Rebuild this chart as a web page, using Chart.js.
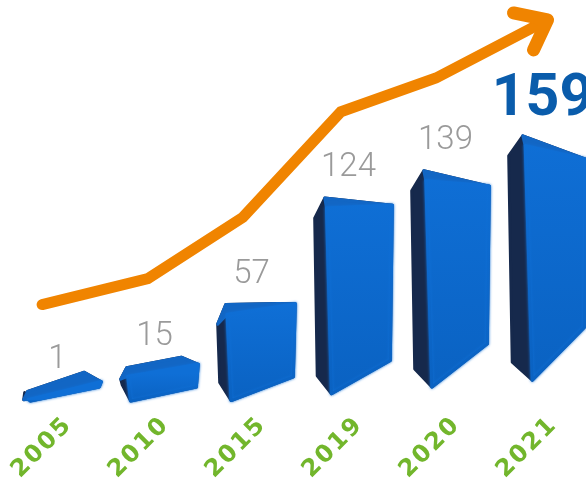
<!DOCTYPE html>
<html>
<head>
<meta charset="utf-8">
<title>Growth chart</title>
<script src="https://cdn.jsdelivr.net/npm/chart.js@4"></script>
<style>
    html, body { margin: 0; padding: 0; background: #fff; overflow: hidden; width: 586px; height: 478px; }
    canvas { display: block; }
</style>
</head>
<body>
<canvas id="growthChart" width="596" height="478"></canvas>
<script>
const years = ['2005', '2010', '2015', '2019', '2020', '2021'];
const counts = [1, 15, 57, 124, 139, 159];

// Orange trend line, x in category positions, y on the same value axis
const trendX = [-0.21, 0.88, 1.86, 2.87, 3.85, 5.0];
const trendY = [63, 80, 120, 189, 211, 249];

const ORANGE = '#f08400';

function clamp(v, lo, hi) {
    return Math.max(lo, Math.min(hi, v));
}

function polygon(ctx, pts) {
    ctx.beginPath();
    pts.forEach((p, i) => i ? ctx.lineTo(p[0], p[1]) : ctx.moveTo(p[0], p[1]));
    ctx.closePath();
}

// Fake perspective: the bars lift and turn a little more the further right they stand
function topDrift(x) {
    return (x - 62) * 0.045;
}

function drawBlock(ctx, bar) {
    const L = bar.x - bar.width / 2;
    const R = bar.x + bar.width / 2;
    const yTop = bar.y - topDrift(bar.x);
    const yBot = bar.base - Math.max(0, bar.x - 250) * 0.07;
    const depth = 10 + (bar.x - 160) * 0.035;
    const tilt = (bar.x - 270) * 0.085;
    const rise = 14 + Math.max(0, bar.x - 160) * 0.1;
    const topFace = clamp((yTop - 300) * 0.16, 0, 16);
    const h = yBot - yTop;

    const apex = [L + depth * 0.6, yTop - topFace * 0.5];
    const back = [R - 17, yTop + tilt - topFace * 0.6];
    const tr = [R, yTop + tilt];
    const br = [R - 2, yBot - rise];
    const bot = [L + depth, yBot];
    const bl = [L + depth * 0.15, yBot - Math.min(18, h * 0.3 + 8)];
    const lt = [L, yTop + Math.min(20, h * 0.2)];
    const frontTop = [L + depth * 0.7, yTop + Math.min(10, h * 0.1)];

    ctx.save();
    ctx.lineJoin = 'round';
    ctx.lineWidth = 3;

    // dark side, whole silhouette first
    const outline = topFace > 0 ? [lt, apex, back, tr, br, bot, bl] : [lt, apex, tr, br, bot, bl];
    polygon(ctx, outline);
    ctx.fillStyle = '#16294c';
    ctx.strokeStyle = '#16294c';
    ctx.fill();
    ctx.stroke();

    // top face
    polygon(ctx, topFace > 0 ? [lt, apex, back, tr, frontTop] : [apex, tr, frontTop]);
    ctx.fillStyle = '#1266c4';
    ctx.strokeStyle = '#1266c4';
    ctx.fill();
    ctx.stroke();

    // front face
    const grad = ctx.createLinearGradient(0, yTop, 0, yBot);
    grad.addColorStop(0, '#0f6fd6');
    grad.addColorStop(1, '#0a62c2');
    ctx.shadowColor = '#0f6fd6';
    ctx.shadowBlur = 3;
    polygon(ctx, [frontTop, tr, br, bot]);
    ctx.fillStyle = grad;
    ctx.strokeStyle = grad;
    ctx.fill();
    ctx.stroke();
    ctx.restore();
}

const blockBars = {
    id: 'blockBars',
    beforeDraw(chart) {
        // wide look for the year labels, the axis is painted right after this
        chart.ctx.save();
        chart.ctx.translate(6, 0);
        chart.ctx.letterSpacing = '2px';
    },
    beforeDatasetsDraw(chart) {
        chart.ctx.restore();
    },
    beforeDatasetDraw(chart, args) {
        if (args.index !== 0) return;
        const ctx = chart.ctx;
        args.meta.data.forEach(bar => {
            drawBlock(ctx, bar.getProps(['x', 'y', 'base', 'width'], true));
        });
        return false;
    }
};

// Value above each bar, the last one is the big blue one
const valueLabels = {
    id: 'valueLabels',
    afterDatasetsDraw(chart) {
        const ctx = chart.ctx;
        const meta = chart.getDatasetMeta(0);
        ctx.save();
        ctx.textAlign = 'center';
        ctx.textBaseline = 'middle';
        meta.data.forEach((bar, i) => {
            const top = bar.y - topDrift(bar.x);
            const lift = clamp((top - 300) * 0.1, 0, 10);
            const last = i === counts.length - 1;
            ctx.font = last ? 'bold 59px Roboto' : '300 33px Roboto';
            ctx.fillStyle = last ? '#0a5cab' : '#9a9a9a';
            ctx.fillText(String(counts[i]), bar.x - 5, top - lift - (last ? 36 : 30));
        });
        ctx.restore();
    }
};

const arrowHead = {
    id: 'arrowHead',
    afterDatasetsDraw(chart) {
        const ctx = chart.ctx;
        const pts = chart.getDatasetMeta(1).data;
        const tip = pts[pts.length - 1];
        ctx.save();
        ctx.strokeStyle = ORANGE;
        ctx.lineWidth = 13;
        ctx.lineCap = 'round';
        ctx.lineJoin = 'round';
        ctx.beginPath();
        ctx.moveTo(tip.x - 34, tip.y - 7);
        ctx.lineTo(tip.x, tip.y);
        ctx.lineTo(tip.x - 14, tip.y + 30);
        ctx.stroke();
        ctx.restore();
    }
};

new Chart(document.getElementById('growthChart').getContext('2d'), {
    type: 'bar',
    data: {
        labels: years,
        datasets: [
            {
                type: 'bar',
                data: counts,
                backgroundColor: '#0a66c8',
                barPercentage: 0.8,
                categoryPercentage: 1,
                grouped: false,
                order: 2
            },
            {
                type: 'line',
                data: trendX.map((x, i) => ({ x: x, y: trendY[i] })),
                xAxisID: 'xTrend',
                borderColor: ORANGE,
                borderWidth: 11,
                borderCapStyle: 'round',
                borderJoinStyle: 'miter',
                pointRadius: 0,
                tension: 0,
                clip: false,
                order: 1
            }
        ]
    },
    options: {
        responsive: false,
        animation: false,
        devicePixelRatio: 1,
        layout: { autoPadding: false, padding: { left: 14, right: 0, top: 0, bottom: 0 } },
        plugins: { legend: { display: false }, tooltip: { enabled: false } },
        scales: {
            x: {
                grid: { display: false },
                border: { display: false },
                afterFit(scale) { scale.height = 77; },
                ticks: {
                    autoSkip: false,
                    minRotation: 45,
                    maxRotation: 45,
                    padding: 2,
                    color: '#72b62c',
                    font: { family: 'DejaVu Sans', size: 24, weight: 'bold' }
                }
            },
            xTrend: { type: 'linear', display: false, offset: false, min: -0.5, max: 5.5 },
            y: { display: false, min: 0, max: 262 }
        }
    },
    plugins: [blockBars, valueLabels, arrowHead]
});
</script>
</body>
</html>
